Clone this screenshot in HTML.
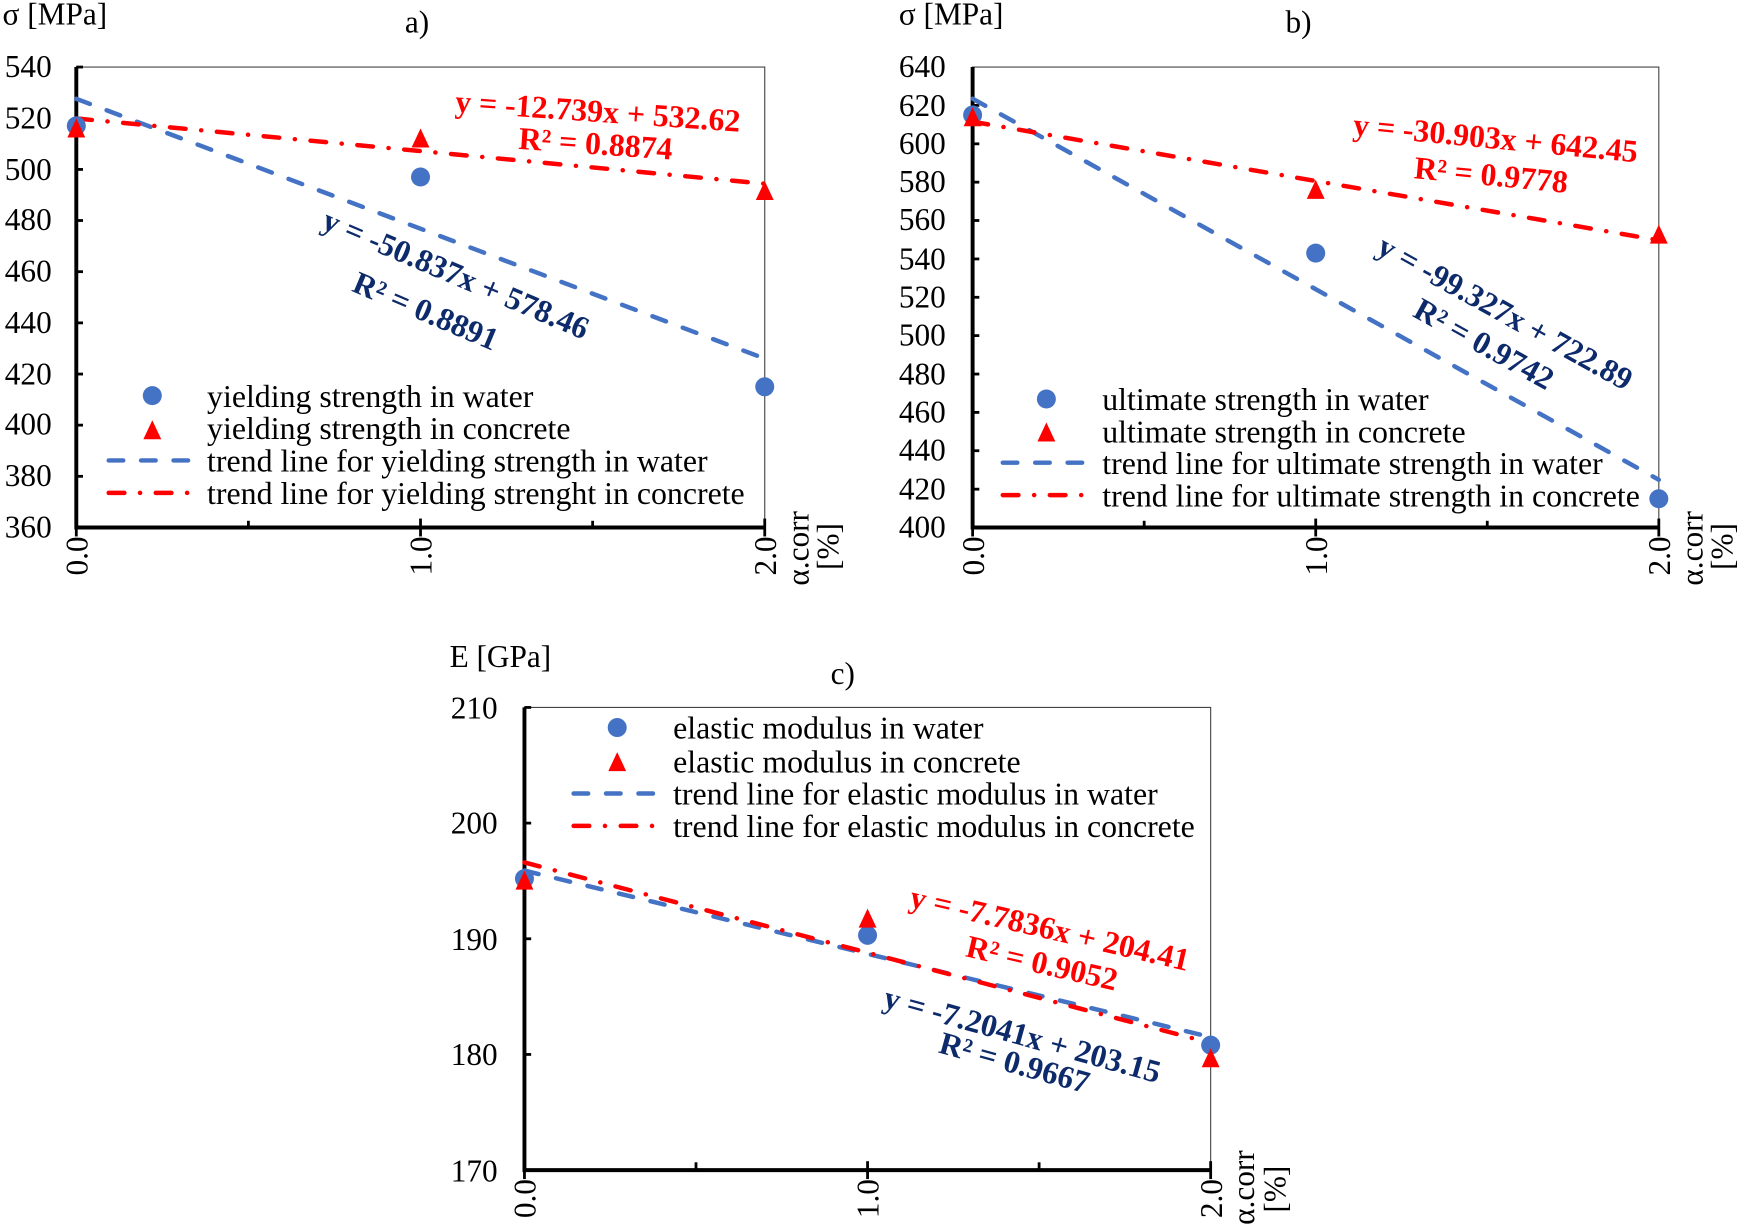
<!DOCTYPE html>
<html><head><meta charset="utf-8"><style>
html,body{margin:0;padding:0;background:#fff;}
svg{display:block;}
text{font-family:"Liberation Serif",serif;}
.t{font-size:28px;fill:#000;}
.lg{font-size:28.5px;fill:#000;}
.eqr{font-size:28.5px;font-weight:bold;fill:#ff0000;}
.eqb{font-size:28.5px;font-weight:bold;fill:#0d2a6b;}
.bl{stroke:#4472c4;stroke-width:4;fill:none;stroke-dasharray:13,16;stroke-linecap:round;}
.rd{stroke:#ff0000;stroke-width:4;fill:none;stroke-dasharray:14,14,0.1,14;stroke-linecap:round;}
.ax{stroke:#000;stroke-width:3.5;fill:none;}
.fr{stroke:#444;stroke-width:1;fill:none;}
.tk{stroke:#000;stroke-width:2.5;}
</style></head><body>
<svg width="1753" height="1226" viewBox="0 0 1568 1097" xmlns="http://www.w3.org/2000/svg">
<defs>
<circle id="c" r="8.5" fill="#4472c4"/>
<polygon id="tr" points="0,-10 8,7 -8,7" fill="#ff0000"/>
</defs>

<!-- ===== Chart a ===== -->
<text class="t" x="2" y="22">σ [MPa]</text>
<text class="t" x="362" y="29">a)</text>
<rect class="fr" x="68" y="60" width="616" height="412"/>
<path class="ax" d="M68,60 V472 H684"/>
<g class="tk">
<line x1="68" y1="60" x2="74" y2="60"/><line x1="68" y1="105.8" x2="74" y2="105.8"/><line x1="68" y1="151.6" x2="74" y2="151.6"/><line x1="68" y1="197.3" x2="74" y2="197.3"/><line x1="68" y1="243.1" x2="74" y2="243.1"/><line x1="68" y1="288.9" x2="74" y2="288.9"/><line x1="68" y1="334.7" x2="74" y2="334.7"/><line x1="68" y1="380.4" x2="74" y2="380.4"/><line x1="68" y1="426.2" x2="74" y2="426.2"/>
<line x1="222" y1="472" x2="222" y2="466"/><line x1="376" y1="472" x2="376" y2="464"/><line x1="530" y1="472" x2="530" y2="466"/><line x1="684" y1="464" x2="684" y2="480"/><line x1="68" y1="472" x2="68" y2="480"/><line x1="376" y1="472" x2="376" y2="480"/>
</g>
<g class="t" text-anchor="end">
<text x="46" y="69">540</text><text x="46" y="115">520</text><text x="46" y="161">500</text><text x="46" y="206">480</text><text x="46" y="252">460</text><text x="46" y="298">440</text><text x="46" y="344">420</text><text x="46" y="389">400</text><text x="46" y="435">380</text><text x="46" y="481">360</text>
</g>
<g class="t" text-anchor="end">
<text transform="translate(78,480) rotate(-90)">0.0</text>
<text transform="translate(386,480) rotate(-90)">1.0</text>
<text transform="translate(694,480) rotate(-90)">2.0</text>
<text transform="translate(723,524) rotate(-90)" text-anchor="start">α.corr</text>
<text transform="translate(750,510) rotate(-90)" text-anchor="start">[%]</text>
</g>
<line class="bl" x1="68" y1="88.4" x2="684" y2="320.9"/>
<line class="rd" x1="68" y1="106" x2="684" y2="164.4"/>
<use href="#c" x="68" y="112.6"/><use href="#c" x="376" y="158.4"/><use href="#c" x="684" y="346.1"/>
<use href="#tr" x="68" y="116"/><use href="#tr" x="376" y="125"/><use href="#tr" x="684" y="172"/>
<text class="eqr" text-anchor="middle" transform="translate(534,109) rotate(4)">y = -12.739x + 532.62</text>
<text class="eqr" text-anchor="middle" transform="translate(532,138) rotate(4)">R² = 0.8874</text>
<text class="eqb" text-anchor="middle" transform="translate(404,254) rotate(23)">y = -50.837x + 578.46</text>
<text class="eqb" text-anchor="middle" transform="translate(377,287) rotate(23)">R² = 0.8891</text>
<use href="#c" x="136" y="354"/><use href="#tr" x="136" y="386"/>
<line class="bl" x1="97" y1="412" x2="180" y2="412"/>
<line class="rd" x1="97" y1="441" x2="180" y2="441"/>
<g class="lg"><text x="185" y="364">yielding strength in water</text><text x="185" y="393">yielding strength in concrete</text><text x="185" y="422">trend line for yielding strength in water</text><text x="185" y="451">trend line for yielding strenght in concrete</text></g>

<!-- ===== Chart b ===== -->
<text class="t" x="804" y="22">σ [MPa]</text>
<text class="t" x="1150" y="29">b)</text>
<rect class="fr" x="870" y="60" width="614" height="412"/>
<path class="ax" d="M870,60 V472 H1484"/>
<g class="tk">
<line x1="870" y1="94.3" x2="876" y2="94.3"/><line x1="870" y1="128.7" x2="876" y2="128.7"/><line x1="870" y1="163" x2="876" y2="163"/><line x1="870" y1="197.3" x2="876" y2="197.3"/><line x1="870" y1="231.7" x2="876" y2="231.7"/><line x1="870" y1="266" x2="876" y2="266"/><line x1="870" y1="300.3" x2="876" y2="300.3"/><line x1="870" y1="334.7" x2="876" y2="334.7"/><line x1="870" y1="369" x2="876" y2="369"/><line x1="870" y1="403.3" x2="876" y2="403.3"/><line x1="870" y1="437.7" x2="876" y2="437.7"/>
<line x1="1023.5" y1="472" x2="1023.5" y2="466"/><line x1="1177" y1="464" x2="1177" y2="480"/><line x1="1330.5" y1="472" x2="1330.5" y2="466"/><line x1="1484" y1="464" x2="1484" y2="480"/><line x1="870" y1="472" x2="870" y2="480"/>
</g>
<g class="t" text-anchor="end">
<text x="846" y="69">640</text><text x="846" y="104">620</text><text x="846" y="138">600</text><text x="846" y="172">580</text><text x="846" y="206">560</text><text x="846" y="241">540</text><text x="846" y="275">520</text><text x="846" y="309">500</text><text x="846" y="344">480</text><text x="846" y="378">460</text><text x="846" y="412">440</text><text x="846" y="447">420</text><text x="846" y="481">400</text>
</g>
<g class="t" text-anchor="end">
<text transform="translate(880,480) rotate(-90)">0.0</text>
<text transform="translate(1187,480) rotate(-90)">1.0</text>
<text transform="translate(1494,480) rotate(-90)">2.0</text>
<text transform="translate(1523,524) rotate(-90)" text-anchor="start">α.corr</text>
<text transform="translate(1550,510) rotate(-90)" text-anchor="start">[%]</text>
</g>
<line class="bl" x1="870" y1="88.3" x2="1484" y2="429.3"/>
<line class="rd" x1="870" y1="108.9" x2="1484" y2="215"/>
<use href="#c" x="870" y="102.9"/><use href="#c" x="1177" y="226.5"/><use href="#c" x="1484" y="446.3"/>
<use href="#tr" x="870" y="106"/><use href="#tr" x="1177" y="171"/><use href="#tr" x="1484" y="211"/>
<text class="eqr" text-anchor="middle" transform="translate(1337,133) rotate(5.5)">y = -30.903x + 642.45</text>
<text class="eqr" text-anchor="middle" transform="translate(1333,166) rotate(5.5)">R² = 0.9778</text>
<text class="eqb" text-anchor="middle" transform="translate(1342,288) rotate(29)">y = -99.327x + 722.89</text>
<text class="eqb" text-anchor="middle" transform="translate(1323,316) rotate(29)">R² = 0.9742</text>
<use href="#c" x="936" y="357"/><use href="#tr" x="936" y="388"/>
<line class="bl" x1="897" y1="414" x2="980" y2="414"/>
<line class="rd" x1="897" y1="443" x2="980" y2="443"/>
<g class="lg"><text x="986" y="367">ultimate strength in water</text><text x="986" y="396">ultimate strength in concrete</text><text x="986" y="424">trend line for ultimate strength in water</text><text x="986" y="453">trend line for ultimate strength in concrete</text></g>

<!-- ===== Chart c ===== -->
<text class="t" x="402" y="597">E [GPa]</text>
<text class="t" x="743" y="612">c)</text>
<rect class="fr" x="469" y="633" width="614" height="414"/>
<path class="ax" d="M469,633 V1047 H1083"/>
<g class="tk">
<line x1="469" y1="633" x2="475" y2="633"/><line x1="469" y1="736.5" x2="475" y2="736.5"/><line x1="469" y1="840" x2="475" y2="840"/><line x1="469" y1="943.5" x2="475" y2="943.5"/>
<line x1="622.5" y1="1047" x2="622.5" y2="1040"/><line x1="776" y1="1039" x2="776" y2="1055"/><line x1="929.5" y1="1047" x2="929.5" y2="1040"/><line x1="1083" y1="1039" x2="1083" y2="1055"/><line x1="469" y1="1047" x2="469" y2="1055"/>
</g>
<g class="t" text-anchor="end">
<text x="445" y="643">210</text><text x="445" y="746">200</text><text x="445" y="850">190</text><text x="445" y="953">180</text><text x="445" y="1057">170</text>
</g>
<g class="t" text-anchor="end">
<text transform="translate(479,1055) rotate(-90)">0.0</text>
<text transform="translate(786,1055) rotate(-90)">1.0</text>
<text transform="translate(1093,1055) rotate(-90)">2.0</text>
<text transform="translate(1122,1096) rotate(-90)" text-anchor="start">α.corr</text>
<text transform="translate(1150,1085) rotate(-90)" text-anchor="start">[%]</text>
</g>
<line class="bl" x1="469" y1="779" x2="1083" y2="928"/>
<line class="rd" x1="469" y1="771.7" x2="1083" y2="933.2"/>
<use href="#c" x="469" y="786.2"/><use href="#c" x="776" y="836.9"/><use href="#c" x="1083" y="935.2"/>
<use href="#tr" x="469" y="789"/><use href="#tr" x="776" y="823"/><use href="#tr" x="1083" y="948"/>
<text class="eqr" text-anchor="middle" transform="translate(937,840) rotate(13)">y = -7.7836x + 204.41</text>
<text class="eqr" text-anchor="middle" transform="translate(930,871) rotate(13)">R² = 0.9052</text>
<text class="eqb" text-anchor="middle" transform="translate(912,935) rotate(15.5)">y = -7.2041x + 203.15</text>
<text class="eqb" text-anchor="middle" transform="translate(905,960) rotate(15.5)">R² = 0.9667</text>
<use href="#c" x="552" y="651"/><use href="#tr" x="552" y="683"/>
<line class="bl" x1="513" y1="710" x2="597" y2="710"/>
<line class="rd" x1="513" y1="739" x2="597" y2="739"/>
<g class="lg"><text x="602" y="661">elastic modulus in water</text><text x="602" y="691">elastic modulus in concrete</text><text x="602" y="720">trend line for elastic modulus in water</text><text x="602" y="749">trend line for elastic modulus in concrete</text></g>
</svg>
</body></html>
